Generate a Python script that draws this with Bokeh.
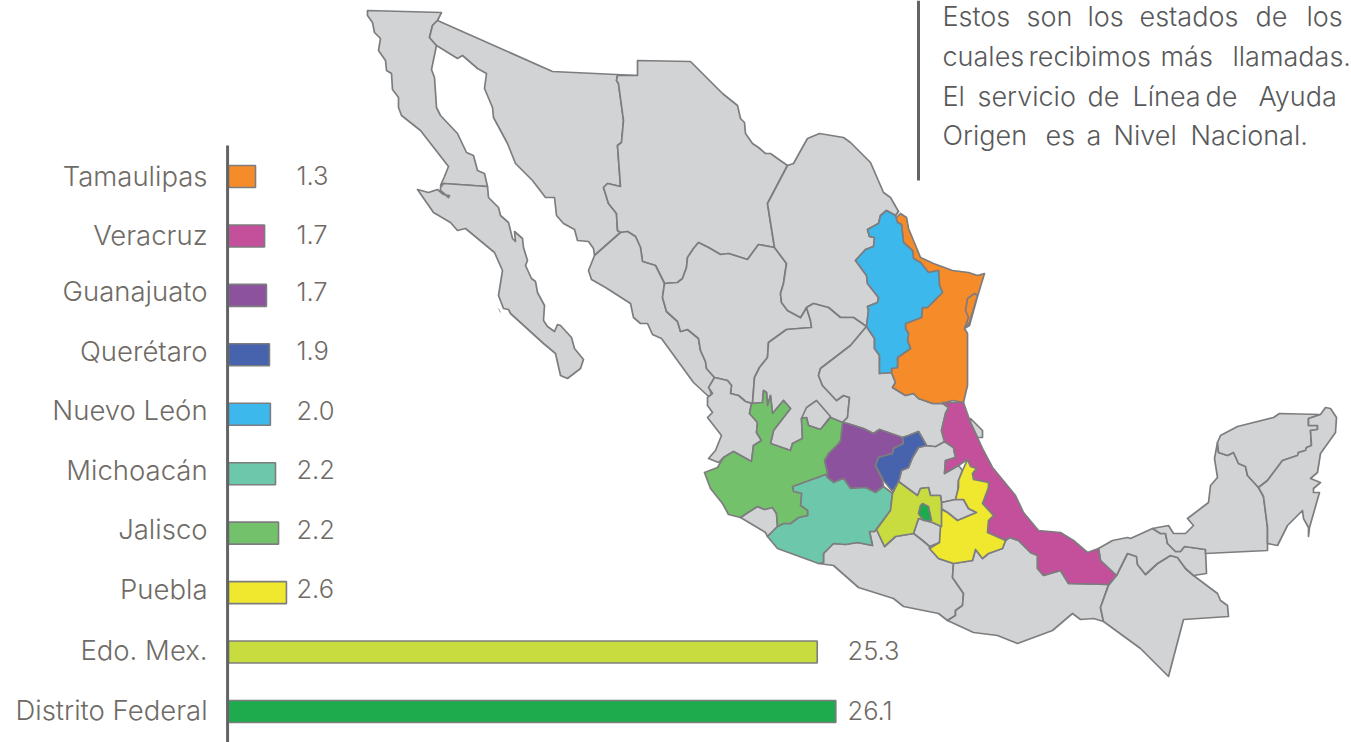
from bokeh.plotting import figure
from bokeh.models import Range1d
from bokeh.core.properties import value
from bokeh.embed import file_html
from bokeh.resources import INLINE

# --- bar chart data -------------------------------------------------------
categories = ["Tamaulipas", "Veracruz", "Guanajuato", "Querétaro", "Nuevo León",
              "Michoacán", "Jalisco", "Puebla", "Edo. Mex.", "Distrito Federal"]
value_labels = ["1.3", "1.7", "1.7", "1.9", "2.0", "2.2", "2.2", "2.6", "25.3", "26.1"]
bar_lengths = [1.16, 1.55, 1.63, 1.76, 1.80, 2.02, 2.15, 2.49, 25.3, 26.1]
bar_colors = ["#f68b29", "#c44f9a", "#8c529e", "#4763ae", "#3cb8ec",
              "#6dc7aa", "#74c16b", "#efe82f", "#c9dc3f", "#1dab4d"]
label_nudge_px = [-1, -1, -4, -4, -4, -4, -4, -4, -2, -1]

paragraph = [["Estos", "son", "los", "estados", "de", "los"],
             ["cuales", "recibimos", "más", "llamadas."],
             ["El", "servicio", "de", "Línea", "de", "Ayuda"],
             ["Origen", "es", "a", "Nivel", "Nacional."]]
paragraph_word_x = [[942, 1026, 1087, 1139, 1255, 1306],
                    [942, 1028, 1160, 1232],
                    [942, 977, 1087, 1132, 1205, 1258],
                    [942, 1045, 1086, 1113, 1190]]
paragraph_y = [16, 56, 96, 135]

# --- map outlines (map units) ---------------------------------------------
baja_california = [(367,10),(441,12),(437,20),(432,25),(429,37),(436,45),(431,69),(434,77),(436,107),(440,115),(457,133),(466,152),(473,155),(477,170),(484,173),(487,186),(443,183),(440,185),(444,176),(448,166),(420,130),(401,115),(398,107),(398,97),(392,89),(391,73),(386,70),(385,60),(378,50),(380,38),(374,32),(372,22),(367,15)]
baja_california_sur = [(443,183),(487,186),(488,197),(498,207),(500,215),(508,222),(512,238),(515,241),(514,231),(522,238),(523,247),(527,260),(525,265),(531,278),(535,281),(537,292),(544,305),(543,320),(547,326),(554,331),(557,324),(560,325),(571,337),(574,348),(583,359),(580,368),(567,378),(560,375),(555,353),(543,343),(510,313),(508,309),(503,308),(498,295),(502,270),(494,252),(465,228),(457,230),(450,222),(433,212),(417,189),(428,192),(437,189),(443,194),(449,195),(448,197),(440,190),(440,187)]
sonora = [(437,20),(552,71),(637,75),(617,75),(616,80),(618,83),(623,120),(621,142),(617,145),(620,186),(607,183),(603,187),(608,203),(616,213),(617,230),(620,232),(594,255),(593,248),(588,241),(577,240),(574,229),(563,223),(556,215),(554,197),(545,197),(532,180),(515,163),(507,143),(493,117),(492,107),(484,88),(486,73),(477,68),(462,55),(457,58),(436,45),(429,37),(432,25)]
chihuahua = [(637,75),(637,60),(690,61),(722,93),(737,105),(740,118),(744,122),(745,133),(752,143),(758,147),(765,153),(770,153),(777,158),(787,165),(767,203),(774,247),(758,244),(747,259),(728,253),(720,254),(708,247),(698,242),(693,248),(687,257),(686,267),(682,278),(677,282),(664,283),(655,265),(642,261),(640,247),(635,236),(627,231),(620,232),(617,230),(616,213),(608,203),(603,187),(607,183),(620,186),(617,145),(621,142),(623,120),(618,83),(616,80),(617,75)]
sinaloa = [(620,232),(594,255),(588,270),(591,279),(605,287),(630,303),(633,317),(640,323),(647,323),(652,334),(661,338),(693,382),(707,395),(712,397),(709,388),(714,377),(706,368),(705,361),(700,350),(698,338),(687,329),(680,331),(677,321),(666,311),(662,297),(664,283),(655,265),(642,261),(640,247),(635,236),(627,231)]
durango = [(774,247),(786,263),(783,283),(780,293),(781,302),(787,310),(800,317),(806,307),(810,320),(811,327),(786,329),(768,342),(767,357),(759,367),(754,377),(752,403),(745,401),(738,395),(730,393),(731,385),(727,380),(714,377),(706,368),(705,361),(700,350),(698,338),(687,329),(680,331),(677,321),(666,311),(662,297),(664,283),(677,282),(682,278),(686,267),(687,257),(693,248),(698,242),(708,247),(720,254),(728,253),(747,259),(758,244)]
coahuila = [(787,165),(793,163),(803,145),(807,138),(819,133),(843,137),(850,142),(870,162),(883,192),(890,197),(898,211),(895,215),(886,210),(880,215),(878,223),(867,229),(869,236),(874,237),(873,246),(865,249),(855,260),(866,275),(867,283),(878,297),(877,302),(867,306),(868,310),(866,326),(853,317),(840,317),(828,307),(813,303),(806,307),(800,317),(787,310),(781,302),(780,293),(783,283),(786,263),(774,247),(767,203)]
nuevo_leon = [(898,211),(895,215),(897,222),(901,224),(903,242),(912,250),(913,258),(920,262),(928,272),(938,270),(939,285),(942,292),(927,307),(922,307),(921,317),(905,323),(905,328),(908,333),(907,340),(910,348),(897,357),(897,367),(891,368),(891,372),(879,373),(879,355),(874,348),(874,338),(866,326),(868,310),(867,306),(877,302),(878,297),(867,283),(866,275),(855,260),(865,249),(873,246),(874,237),(869,236),(867,229),(878,223),(880,215),(886,210),(895,215)]
tamaulipas = [(895,218),(900,213),(906,217),(908,228),(920,257),(933,263),(952,270),(968,272),(977,275),(984,273),(977,296),(969,325),(964,328),(968,317),(965,310),(967,298),(974,293),(977,295),(969,322),(964,328),(967,333),(967,385),(963,402),(952,400),(942,403),(932,403),(918,398),(913,393),(905,395),(892,387),(895,382),(891,372),(891,368),(897,367),(897,357),(910,348),(907,340),(908,333),(905,328),(905,323),(921,317),(922,307),(927,307),(942,292),(939,285),(938,270),(928,272),(920,262),(913,258),(912,250),(903,242),(901,224),(897,222)]
zacatecas = [(866,326),(850,345),(820,368),(818,375),(822,385),(836,400),(843,395),(849,397),(847,417),(842,422),(830,417),(820,429),(808,425),(806,417),(801,418),(802,438),(792,443),(790,450),(770,443),(773,430),(790,408),(783,400),(772,413),(770,395),(767,405),(766,392),(763,390),(762,402),(751,403),(752,403),(754,377),(759,367),(767,357),(768,342),(786,329),(811,327),(810,320),(806,307),(813,303),(828,307),(840,317),(853,317)]
aguascalientes = [(806,407),(816,400),(830,416),(820,429),(808,425),(806,417),(801,418)]
nayarit = [(714,377),(708,387),(712,393),(707,397),(707,405),(712,412),(707,417),(721,435),(715,450),(708,458),(718,462),(723,457),(733,451),(751,461),(753,445),(761,440),(756,432),(757,422),(749,413),(751,403),(745,401),(738,395),(730,393),(731,385),(727,380)]
jalisco = [(751,403),(762,402),(763,390),(766,392),(767,405),(770,395),(772,413),(783,400),(790,408),(773,430),(770,443),(790,450),(792,443),(802,438),(801,418),(806,417),(808,425),(820,429),(830,417),(842,422),(840,440),(838,443),(828,453),(824,460),(827,473),(825,474),(803,482),(792,486),(793,491),(801,493),(800,505),(807,510),(807,515),(798,517),(790,523),(783,523),(777,526),(776,513),(772,507),(764,509),(757,506),(749,511),(740,517),(728,514),(722,503),(710,488),(704,472),(717,467),(723,457),(733,451),(751,461),(753,445),(761,440),(756,432),(757,422),(749,413)]
colima = [(740,517),(749,511),(757,506),(764,509),(772,507),(776,513),(777,526),(767,536),(765,532)]
michoacan = [(767,536),(777,526),(783,523),(790,523),(798,517),(807,515),(807,510),(800,505),(801,493),(793,491),(792,486),(803,482),(825,474),(827,477),(833,482),(843,478),(850,488),(865,487),(875,492),(883,486),(892,493),(890,510),(874,531),(869,531),(872,545),(857,542),(845,544),(833,543),(823,553),(823,562),(818,563),(777,548)]
guanajuato = [(842,422),(847,423),(863,428),(873,433),(879,429),(902,437),(903,443),(893,448),(892,453),(878,457),(875,465),(882,480),(883,486),(875,492),(865,487),(850,488),(843,478),(833,482),(827,477),(827,473),(824,460),(828,453),(838,443),(840,440)]
queretaro = [(902,437),(908,435),(918,431),(926,445),(918,447),(912,457),(908,467),(901,470),(898,482),(892,491),(883,480),(875,465),(878,457),(892,453),(893,448),(903,443)]
hidalgo = [(926,445),(935,446),(944,441),(953,447),(955,457),(945,460),(944,473),(958,465),(962,470),(958,480),(957,493),(955,499),(941,502),(940,495),(930,495),(928,487),(920,488),(917,495),(898,481),(901,470),(908,467),(912,457),(918,447)]
edo_mex = [(898,481),(917,495),(920,488),(928,487),(930,495),(940,495),(941,502),(941,526),(932,522),(918,518),(913,533),(895,536),(884,546),(876,529),(890,510),(892,493)]
distrito_federal = [(920,505),(922,503),(928,506),(931,520),(923,520),(918,513)]
morelos = [(918,518),(932,522),(941,526),(939,542),(929,546),(922,540),(913,533)]
tlaxcala = [(941,502),(955,499),(963,499),(968,508),(976,512),(957,520),(947,512),(941,508)]
puebla = [(967,459),(970,466),(976,468),(972,473),(973,479),(988,482),(988,487),(982,503),(993,515),(988,520),(987,532),(1005,540),(1002,548),(988,553),(982,558),(975,549),(972,560),(953,563),(938,558),(929,548),(939,542),(941,509),(947,512),(957,520),(976,512),(968,508),(963,499),(955,499),(958,487),(958,480),(962,470)]
veracruz = [(942,402),(963,402),(970,422),(977,437),(983,450),(992,467),(1015,495),(1023,512),(1038,530),(1060,532),(1073,540),(1087,552),(1098,548),(1100,560),(1116,575),(1108,584),(1068,583),(1060,570),(1043,575),(1037,568),(1037,555),(1030,552),(1018,540),(1009,537),(1005,540),(987,532),(988,520),(993,515),(982,503),(988,487),(988,482),(973,479),(972,473),(976,468),(970,466),(967,459),(958,465),(944,473),(945,460),(955,457),(953,447),(944,441),(941,430),(945,413),(948,407)]
veracruz_lagoon = [(970,418),(982,430),(982,437),(977,437),(970,422)]
san_luis_potosi = [(866,326),(874,338),(874,348),(879,355),(879,373),(891,372),(895,382),(892,387),(905,395),(913,393),(918,398),(932,403),(942,403),(948,407),(945,413),(941,430),(944,441),(935,446),(926,445),(918,431),(908,435),(902,437),(879,429),(873,433),(863,428),(847,423),(842,422),(847,417),(849,397),(843,395),(836,400),(822,385),(818,375),(820,368),(850,345)]
guerrero = [(818,563),(823,562),(823,553),(833,543),(845,544),(857,542),(872,545),(869,531),(874,531),(876,529),(884,546),(895,536),(913,533),(922,540),(929,546),(929,548),(938,558),(953,563),(952,577),(963,593),(962,605),(955,610),(955,615),(947,620),(938,613),(903,606),(893,598),(858,587),(833,565)]
oaxaca = [(953,563),(972,560),(975,549),(982,558),(988,553),(1002,548),(1005,540),(1009,537),(1018,540),(1030,552),(1037,555),(1037,568),(1043,575),(1060,570),(1068,583),(1108,584),(1100,607),(1103,621),(1093,618),(1080,619),(1072,613),(1052,630),(1017,643),(997,635),(973,632),(947,620),(955,615),(955,610),(962,605),(963,593),(952,577)]
chiapas = [(1108,585),(1116,575),(1127,553),(1136,556),(1137,564),(1145,574),(1157,563),(1170,555),(1177,557),(1185,568),(1193,575),(1217,593),(1220,600),(1227,605),(1228,616),(1183,619),(1168,676),(1140,648),(1103,621),(1100,607)]
tabasco = [(1098,548),(1112,540),(1127,537),(1130,538),(1152,528),(1160,533),(1165,533),(1167,543),(1175,551),(1180,551),(1184,546),(1205,549),(1206,573),(1193,575),(1185,568),(1177,557),(1170,555),(1157,563),(1145,574),(1137,564),(1136,556),(1127,553),(1116,575),(1100,560)]
campeche = [(1152,528),(1168,525),(1173,533),(1185,533),(1193,525),(1187,518),(1208,502),(1210,485),(1217,477),(1214,458),(1217,442),(1218,452),(1227,455),(1233,452),(1238,463),(1245,466),(1247,475),(1258,487),(1263,496),(1267,527),(1267,550),(1205,553),(1205,549),(1184,546),(1180,551),(1175,551),(1167,543),(1165,533),(1160,533)]
yucatan = [(1217,442),(1220,435),(1237,426),(1273,417),(1279,413),(1320,414),(1308,418),(1308,425),(1317,425),(1317,429),(1310,430),(1311,445),(1306,447),(1305,450),(1298,452),(1297,455),(1282,460),(1267,480),(1258,487),(1247,475),(1245,466),(1238,463),(1233,452),(1227,455),(1218,452)]
quintana_roo = [(1320,414),(1325,407),(1330,408),(1336,417),(1335,432),(1320,453),(1317,472),(1310,478),(1320,482),(1313,488),(1313,492),(1319,492),(1309,527),(1308,536),(1308,527),(1303,518),(1302,510),(1287,525),(1277,545),(1267,543),(1267,527),(1263,496),(1258,487),(1267,480),(1282,460),(1297,455),(1298,452),(1305,450),(1306,447),(1311,445),(1310,430),(1317,429),(1317,425),(1308,425),(1308,418)]
cabo_islet = [(498,308),(500,312)]

GRAY = "#d1d3d4"
gray_states = [baja_california, baja_california_sur, sonora, chihuahua, sinaloa, durango,
               coahuila, zacatecas, aguascalientes, nayarit, colima, hidalgo, morelos,
               tlaxcala, san_luis_potosi, guerrero, oaxaca, chiapas, tabasco, campeche,
               yucatan, quintana_roo, veracruz_lagoon]
called_states = [tamaulipas, veracruz, guanajuato, queretaro, nuevo_leon,
                 michoacan, jalisco, puebla, edo_mex, distrito_federal]

# --- frame: the map is drawn in its own units, the bars on their own ranges -
W, H = 1351, 742
p = figure(width=W, height=H, output_backend="svg", toolbar_location=None,
           x_range=Range1d(0, W), y_range=Range1d(H, 0),
           min_border=0, min_border_left=0, min_border_right=0,
           min_border_top=0, min_border_bottom=0, outline_line_color=None)
p.axis.visible = False
p.grid.visible = False
p.background_fill_color = "white"

AXIS_PX, UNIT_PX = 228, 23.27
ROW0_PX, ROW_PX = 176, 59.44
p.extra_x_ranges["bars"] = Range1d((0 - AXIS_PX) / UNIT_PX, (W - AXIS_PX) / UNIT_PX)
p.extra_y_ranges["rows"] = Range1d((H - ROW0_PX) / ROW_PX, (0 - ROW0_PX) / ROW_PX)

EDGE = "#7d7d7f"
def draw_states(states, colors):
    p.patches([[q[0] for q in s] for s in states], [[q[1] for q in s] for s in states],
              fill_color=colors, line_color=EDGE, line_width=1.7, line_join="round")

draw_states(gray_states, [GRAY] * len(gray_states))
draw_states(called_states, bar_colors)
p.line([q[0] for q in cabo_islet], [q[1] for q in cabo_islet], line_color="#a0a0a0", line_width=1)

rows = list(range(len(categories)))
label_rows = [r + n / ROW_PX for r, n in zip(rows, label_nudge_px)]
FONT = value("Inter Light")
TEXT = "#6f6b66"

p.hbar(y=rows, left=0, right=bar_lengths, height=0.37, fill_color=bar_colors,
       line_color=EDGE, line_width=1.6, x_range_name="bars", y_range_name="rows")
p.segment(x0=[-0.04], x1=[-0.04], y0=[-0.52], y1=[9.6], line_color="#636466", line_width=3,
          x_range_name="bars", y_range_name="rows")

p.text(x=[-0.9] * len(rows), y=label_rows, text=categories, text_align="right",
       text_baseline="middle", text_font=FONT, text_font_size="27.5px", text_color=TEXT,
       x_range_name="bars", y_range_name="rows")
p.text(x=[26.6 if v > 10 else 2.92 for v in bar_lengths], y=label_rows, text=value_labels,
       text_align="left", text_baseline="middle", text_font=FONT, text_font_size="25.5px",
       text_color=TEXT, x_range_name="bars", y_range_name="rows")

p.segment(x0=[918], x1=[918], y0=[0], y1=[180], line_color="#636466", line_width=3)
wx, wy, wt = [], [], []
for words, xs, y in zip(paragraph, paragraph_word_x, paragraph_y):
    for w, x in zip(words, xs):
        wx.append(x); wy.append(y); wt.append(w)
p.text(x=wx, y=wy, text=wt, text_align="left", text_baseline="middle", text_font=FONT,
       text_font_size="27px", text_color="#58595b")

open("out.html", "w").write(file_html(p, INLINE))
